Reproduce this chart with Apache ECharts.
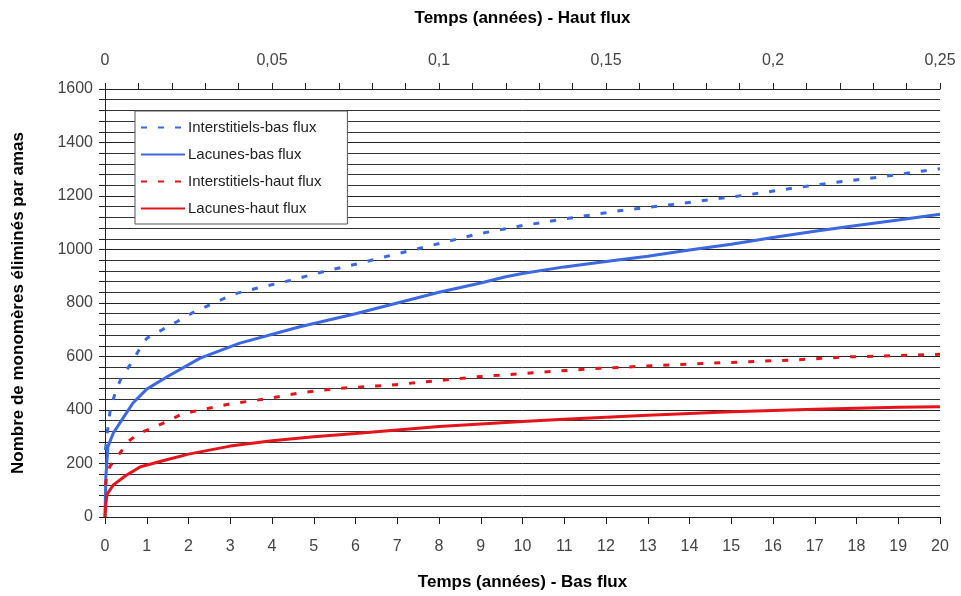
<!DOCTYPE html>
<html>
<head>
<meta charset="utf-8">
<script src="https://cdn.jsdelivr.net/npm/echarts@6/dist/echarts.min.js"></script>
<style>
  html, body { margin: 0; padding: 0; background: #fff; }
  #main { width: 961px; height: 596px; }
</style>
</head>
<body>
<div id="main"></div>
<script>
// temps (années, bas flux) et nombre de monomères
var tIntBas = [0.01, 0.05, 0.12, 0.24, 0.4, 0.64, 0.84, 1.0, 1.36, 1.72, 2.08, 2.67, 3.15, 3.63, 4.43, 5.22, 6.03, 6.87, 8.02, 8.9, 9.94, 11.2, 12.46, 13.7, 15.37, 17, 18.6, 20];
var vIntBas = [250, 310, 394, 463, 524, 577, 631, 668, 699, 730, 762, 805, 836, 855, 884, 917, 946, 979, 1023, 1057, 1088, 1119, 1148, 1170, 1204, 1241, 1272, 1302];

var tLacBas = [0, 0.02, 0.07, 0.2, 0.4, 0.67, 1.0, 1.5, 2.28, 3.23, 4.67, 6, 7, 8, 9, 9.6, 10, 11, 12, 13, 14, 15, 16, 17, 18, 19, 20];
var vLacBas = [0, 150, 263, 314, 362, 426, 478, 525, 594, 650, 711, 760, 800, 840, 875, 898, 910, 935, 955, 975, 998, 1020, 1045, 1068, 1090, 1110, 1132];

var tIntHaut = [0.01, 0.05, 0.12, 0.36, 0.6, 0.84, 1.24, 1.6, 1.84, 2.28, 3, 3.83, 4.63, 5.5, 6.83, 8, 8.9, 10.6, 11.86, 13.5, 15, 16.5, 17.7, 19.8, 20];
var vIntHaut = [120, 160, 190, 240, 288, 314, 340, 366, 385, 400, 423, 441, 463, 480, 493, 510, 524, 543, 556, 568, 578, 587, 598, 607, 608];

var tLacHaut = [0, 0.02, 0.05, 0.2, 0.5, 0.85, 1.5, 2, 3, 4, 5, 6, 7, 8, 9, 10, 11, 12, 13, 14, 15, 16, 17, 18, 19, 20];
var vLacHaut = [0, 50, 85, 120, 155, 188, 215, 235, 265, 285, 300, 312, 325, 338, 348, 357, 365, 373, 380, 387, 393, 398, 403, 407, 410, 412];

var seriesNames = ['Interstitiels-bas flux', 'Lacunes-bas flux', 'Interstitiels-haut flux', 'Lacunes-haut flux'];

function pairs(t, v) {
  return t.map(function (x, i) { return [x, v[i]]; });
}

var blue = '#3c68e0';
var red = '#e5141b';
var fam = 'Liberation Sans, Arial, sans-serif';
var labelFont = { color: '#444', fontSize: 16, fontFamily: fam };
var titleFont = { color: '#000', fontSize: 17, fontWeight: 'bold', fontFamily: fam };

var myChart = echarts.init(document.getElementById('main'));
var option = {
  animation: false,
  backgroundColor: '#fff',
  grid: { left: 105, right: 21, top: 89, bottom: 79 },
  legend: {
    orient: 'vertical',
    left: 135,
    top: 111,
    data: seriesNames,
    itemWidth: 44,
    itemHeight: 12,
    itemGap: 12,
    padding: [9, 26, 8, 5],
    backgroundColor: '#fff',
    borderColor: '#555',
    borderWidth: 1,
    itemStyle: { opacity: 0 },
    textStyle: { color: '#222', fontSize: 15, fontFamily: fam, padding: [0, 0, 0, -2] }
  },
  xAxis: [
    {
      type: 'value',
      position: 'bottom',
      min: 0,
      max: 20,
      interval: 1,
      name: 'Temps (années) - Bas flux',
      nameLocation: 'middle',
      nameGap: 57,
      nameTextStyle: titleFont,
      axisLine: { lineStyle: { color: '#222' } },
      axisTick: { length: 7, lineStyle: { color: '#222' } },
      axisLabel: Object.assign({ margin: 22 }, labelFont),
      splitLine: { show: false }
    },
    {
      type: 'value',
      position: 'top',
      min: 0,
      max: 0.25,
      interval: 0.05,
      name: 'Temps (années) - Haut flux',
      nameLocation: 'middle',
      nameGap: 62,
      nameTextStyle: titleFont,
      axisLine: { lineStyle: { color: '#222' } },
      axisTick: { length: 6, lineStyle: { color: '#222' } },
      minorTick: { show: true, splitNumber: 5, length: 6, lineStyle: { color: '#222' } },
      axisLabel: Object.assign({
        margin: 20,
        formatter: function (v) { return String(Math.round(v * 100) / 100).replace('.', ','); }
      }, labelFont),
      splitLine: { show: false }
    }
  ],
  yAxis: {
    type: 'value',
    min: 0,
    max: 1600,
    interval: 200,
    name: 'Nombre de monomères éliminés par amas',
    nameLocation: 'middle',
    nameGap: 78,
    nameTextStyle: titleFont,
    axisLine: { show: true, lineStyle: { color: '#222' } },
    axisTick: { show: true, length: 6, lineStyle: { color: '#222' } },
    minorTick: { show: true, splitNumber: 5, length: 6, lineStyle: { color: '#222' } },
    axisLabel: Object.assign({
      margin: 12,
      formatter: function (v) { return String(v); }
    }, labelFont),
    splitLine: { show: true, lineStyle: { color: '#222', width: 1 } },
    minorSplitLine: { show: true, lineStyle: { color: '#333', width: 1 } }
  },
  series: [
    {
      name: seriesNames[0],
      type: 'line',
      xAxisIndex: 0,
      symbol: 'none',
      data: pairs(tIntBas, vIntBas),
      color: blue,
      lineStyle: { width: 3, type: [6, 11], color: blue }
    },
    {
      name: seriesNames[1],
      type: 'line',
      xAxisIndex: 0,
      symbol: 'none',
      data: pairs(tLacBas, vLacBas),
      color: blue,
      lineStyle: { width: 3, color: blue }
    },
    {
      name: seriesNames[2],
      type: 'line',
      xAxisIndex: 0,
      symbol: 'none',
      data: pairs(tIntHaut, vIntHaut),
      color: red,
      lineStyle: { width: 3, type: [6, 11], color: red }
    },
    {
      name: seriesNames[3],
      type: 'line',
      xAxisIndex: 0,
      symbol: 'none',
      data: pairs(tLacHaut, vLacHaut),
      color: red,
      lineStyle: { width: 3, color: red }
    }
  ]
};
myChart.setOption(option);
</script>
</body>
</html>
